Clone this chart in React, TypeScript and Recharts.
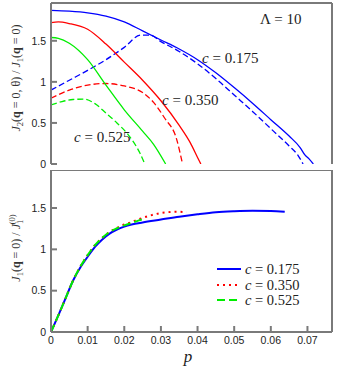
import React from 'react';
import { LineChart, Line, XAxis, YAxis, Legend } from 'recharts';

// ---- axes ----
const pTicks = [0, 0.01, 0.02, 0.03, 0.04, 0.05, 0.06, 0.07];
const yTicks = [0, 0.5, 1, 1.5];
const pDomain = [0, 0.0767];
const yDomain = [0, 1.96];

// ---- top panel: J2(q=0,θ)/J1(q=0) ----
const topP175Solid = [0, 0.005, 0.01, 0.015, 0.02, 0.025, 0.03, 0.035, 0.04, 0.045, 0.05, 0.055, 0.06, 0.065, 0.068, 0.0693, 0.0705, 0.0716];
const topV175Solid = [1.87, 1.86, 1.84, 1.8, 1.73, 1.62, 1.51, 1.4, 1.27, 1.11, 0.93, 0.74, 0.54, 0.34, 0.2, 0.11, 0.06, 0];
const topP175Dash = [0, 0.005, 0.01, 0.015, 0.02, 0.0245, 0.027, 0.03, 0.035, 0.04, 0.045, 0.05, 0.055, 0.06, 0.065, 0.0675, 0.0688];
const topV175Dash = [0.9, 1.02, 1.14, 1.27, 1.42, 1.57, 1.57, 1.49, 1.37, 1.22, 1.04, 0.84, 0.64, 0.43, 0.22, 0.1, 0];
const topP350Solid = [0, 0.002, 0.005, 0.01, 0.015, 0.02, 0.025, 0.03, 0.035, 0.038, 0.04, 0.0409];
const topV350Solid = [1.72, 1.73, 1.71, 1.64, 1.46, 1.24, 1.02, 0.77, 0.47, 0.26, 0.08, 0];
const topP350Dash = [0, 0.005, 0.01, 0.015, 0.02, 0.025, 0.028, 0.031, 0.0343, 0.0359];
const topV350Dash = [0.8, 0.9, 0.96, 0.98, 0.95, 0.87, 0.75, 0.56, 0.3, 0];
const topP525Solid = [0, 0.002, 0.005, 0.01, 0.015, 0.02, 0.025, 0.028, 0.0313];
const topV525Solid = [1.54, 1.53, 1.47, 1.27, 0.96, 0.66, 0.4, 0.24, 0];
const topP525Dash = [0, 0.003, 0.006, 0.009, 0.012, 0.015, 0.018, 0.021, 0.0243, 0.0256];
const topV525Dash = [0.72, 0.76, 0.785, 0.79, 0.735, 0.62, 0.5, 0.36, 0.13, 0];

// ---- bottom panel: J1(q=0)/J1^(0) ----
const botP175 = [0, 0.002, 0.004, 0.006, 0.008, 0.01, 0.012, 0.014, 0.016, 0.018, 0.02, 0.022, 0.025, 0.03, 0.035, 0.04, 0.045, 0.05, 0.055, 0.06, 0.0638];
const botV175 = [0, 0.2, 0.41, 0.62, 0.78, 0.91, 1.03, 1.12, 1.19, 1.24, 1.275, 1.3, 1.325, 1.36, 1.395, 1.425, 1.45, 1.462, 1.468, 1.465, 1.455];
const botP350 = [0, 0.002, 0.004, 0.006, 0.008, 0.01, 0.012, 0.014, 0.016, 0.018, 0.02, 0.022, 0.024, 0.026, 0.028, 0.03, 0.032, 0.034, 0.037];
const botV350 = [0, 0.2, 0.41, 0.62, 0.79, 0.93, 1.05, 1.14, 1.21, 1.26, 1.3, 1.33, 1.365, 1.395, 1.42, 1.44, 1.45, 1.455, 1.45];
const botP525 = [0, 0.002, 0.004, 0.006, 0.008, 0.01, 0.012, 0.014, 0.016, 0.018, 0.02, 0.022, 0.024, 0.0256];
const botV525 = [0, 0.2, 0.41, 0.62, 0.79, 0.93, 1.05, 1.14, 1.21, 1.255, 1.29, 1.32, 1.35, 1.37];

const legendLabels = ['c = 0.175', 'c = 0.350', 'c = 0.525'];

const BLUE = '#0000ff';
const RED = '#ff0000';
const GREEN = '#00ee00';
const FRAME = '#7a7a7a';

const zip = (ps: number[], vs: number[]) => ps.map((p, i) => ({ p, v: vs[i] }));

const tickStyle = { fontFamily: '"Liberation Sans", Arial, sans-serif', fontSize: 10.5, fill: '#222' };
const serif = '"Liberation Serif", "Times New Roman", serif';

const frameAxes = (showXLabels: boolean, bottomHeight: number) => [
  <XAxis
    key="xb"
    xAxisId="b"
    dataKey="p"
    type="number"
    domain={pDomain}
    ticks={pTicks}
    allowDataOverflow
    height={bottomHeight}
    stroke={FRAME}
    strokeWidth={2}
    tickSize={-6}
    tickMargin={11}
    tick={showXLabels ? tickStyle : false}
  />,
  <XAxis
    key="xt"
    xAxisId="t"
    orientation="top"
    dataKey="p"
    type="number"
    domain={pDomain}
    ticks={pTicks}
    allowDataOverflow
    height={1}
    stroke={FRAME}
    strokeWidth={2}
    tickSize={-6}
    tick={false}
  />,
  <YAxis
    key="yl"
    yAxisId="l"
    type="number"
    domain={yDomain}
    ticks={yTicks}
    allowDataOverflow
    width={51}
    stroke={FRAME}
    strokeWidth={2}
    tickSize={-6}
    tickMargin={11}
    tick={tickStyle}
  />,
  <YAxis
    key="yr"
    yAxisId="r"
    orientation="right"
    type="number"
    domain={yDomain}
    ticks={yTicks}
    allowDataOverflow
    width={1}
    stroke={FRAME}
    strokeWidth={2}
    tickSize={-6}
    tick={false}
  />,
];

// invisible series bound to the top/right frame axes so they are drawn
const frameAnchor = (data: { p: number; v: number }[]) => (
  <Line
    xAxisId="t"
    yAxisId="r"
    data={data}
    dataKey="v"
    stroke="none"
    dot={false}
    activeDot={false}
    legendType="none"
    isAnimationActive={false}
  />
);

const LegendBox = () => {
  const styles = [
    { color: BLUE, dash: undefined as string | undefined },
    { color: RED, dash: '2 4' },
    { color: GREEN, dash: '8 4' },
  ];
  const rowY = [11, 27, 42];
  return (
    <svg width={115} height={50} style={{ display: 'block' }}>
      {styles.map((s, i) => (
        <g key={i}>
          <line x1={2} x2={26} y1={rowY[i]} y2={rowY[i]} stroke={s.color} strokeWidth={2} strokeDasharray={s.dash} />
          <text x={30} y={rowY[i] + 4.5} fontFamily={serif} fontSize={14.5} fill="#222">
            <tspan fontStyle="italic">c</tspan>
            <tspan>{legendLabels[i].slice(1)}</tspan>
          </text>
        </g>
      ))}
    </svg>
  );
};

const Overlay = () => (
  <svg width={340} height={368} style={{ position: 'absolute', left: 0, top: 0, pointerEvents: 'none' }}>
    <g fontFamily={serif} fill="#333" fontSize={12}>
      <text transform="rotate(-90 16 78)" x={16} y={82} textAnchor="middle">
        <tspan fontStyle="italic">J</tspan>
        <tspan fontSize={8.5} dy={2.5}>2</tspan>
        <tspan dy={-2.5}>(</tspan>
        <tspan fontWeight="bold">q</tspan>
        <tspan> = 0, θ) / </tspan>
        <tspan fontStyle="italic">J</tspan>
        <tspan fontSize={8.5} dy={2.5}>1</tspan>
        <tspan dy={-2.5}>(</tspan>
        <tspan fontWeight="bold">q</tspan>
        <tspan> = 0)</tspan>
      </text>
      <text transform="rotate(-90 16 248)" x={16} y={252} textAnchor="middle">
        <tspan fontStyle="italic">J</tspan>
        <tspan fontSize={8.5} dy={2.5}>1</tspan>
        <tspan dy={-2.5}>(</tspan>
        <tspan fontWeight="bold">q</tspan>
        <tspan> = 0) / </tspan>
        <tspan fontStyle="italic">J</tspan>
        <tspan fontSize={8.5} dy={3}>1</tspan>
        <tspan fontSize={8.5} dx={-4.5} dy={-8}>(0)</tspan>
      </text>
    </g>
    <g fontFamily={serif} fill="#222" fontSize={15}>
      <text x={260} y={24}>Λ = 10</text>
      <text x={202} y={63}><tspan fontStyle="italic">c</tspan> = 0.175</text>
      <text x={162} y={105}><tspan fontStyle="italic">c</tspan> = 0.350</text>
      <text x={74} y={142}><tspan fontStyle="italic">c</tspan> = 0.525</text>
      <text x={188} y={362} fontSize={17} fontStyle="italic" textAnchor="middle">p</text>
    </g>
  </svg>
);

const lineProps = { xAxisId: 'b', yAxisId: 'l', dataKey: 'v', type: 'monotone' as const, dot: false, isAnimationActive: false };

export default function App() {
  return (
    <div style={{ position: 'absolute', left: 0, top: 0, width: 340, height: 368, background: '#fff' }}>
      <div style={{ position: 'absolute', left: 0, top: 0 }}>
        <LineChart width={340} height={170} margin={{ top: 2, right: 7, bottom: 6, left: 0 }}>
          {frameAxes(false, 0)}
          {frameAnchor(zip(topP175Solid, topV175Solid))}
          <Line {...lineProps} data={zip(topP175Solid, topV175Solid)} stroke={BLUE} strokeWidth={1.3} />
          <Line {...lineProps} data={zip(topP175Dash, topV175Dash)} stroke={BLUE} strokeWidth={1.3} strokeDasharray="6 3" />
          <Line {...lineProps} data={zip(topP350Solid, topV350Solid)} stroke={RED} strokeWidth={1.3} />
          <Line {...lineProps} data={zip(topP350Dash, topV350Dash)} stroke={RED} strokeWidth={1.3} strokeDasharray="6 3" />
          <Line {...lineProps} data={zip(topP525Solid, topV525Solid)} stroke={GREEN} strokeWidth={1.3} />
          <Line {...lineProps} data={zip(topP525Dash, topV525Dash)} stroke={GREEN} strokeWidth={1.3} strokeDasharray="6 3" />
        </LineChart>
      </div>
      <div style={{ position: 'absolute', left: 0, top: 170 }}>
        <LineChart width={340} height={198} margin={{ top: -1, right: 7, bottom: 16, left: 0 }}>
          {frameAxes(true, 20)}
          {frameAnchor(zip(botP175, botV175))}
          <Line {...lineProps} name={legendLabels[0]} data={zip(botP175, botV175)} stroke={BLUE} strokeWidth={2} />
          <Line {...lineProps} name={legendLabels[1]} data={zip(botP350, botV350)} stroke={RED} strokeWidth={2} strokeDasharray="2 4" />
          <Line {...lineProps} name={legendLabels[2]} data={zip(botP525, botV525)} stroke={GREEN} strokeWidth={2} strokeDasharray="8 4" />
          <Legend
            layout="vertical"
            align="center"
            verticalAlign="middle"
            content={() => <LegendBox />}
            wrapperStyle={{ left: 215, top: 88, width: 115, height: 50 }}
          />
        </LineChart>
      </div>
      <Overlay />
    </div>
  );
}
